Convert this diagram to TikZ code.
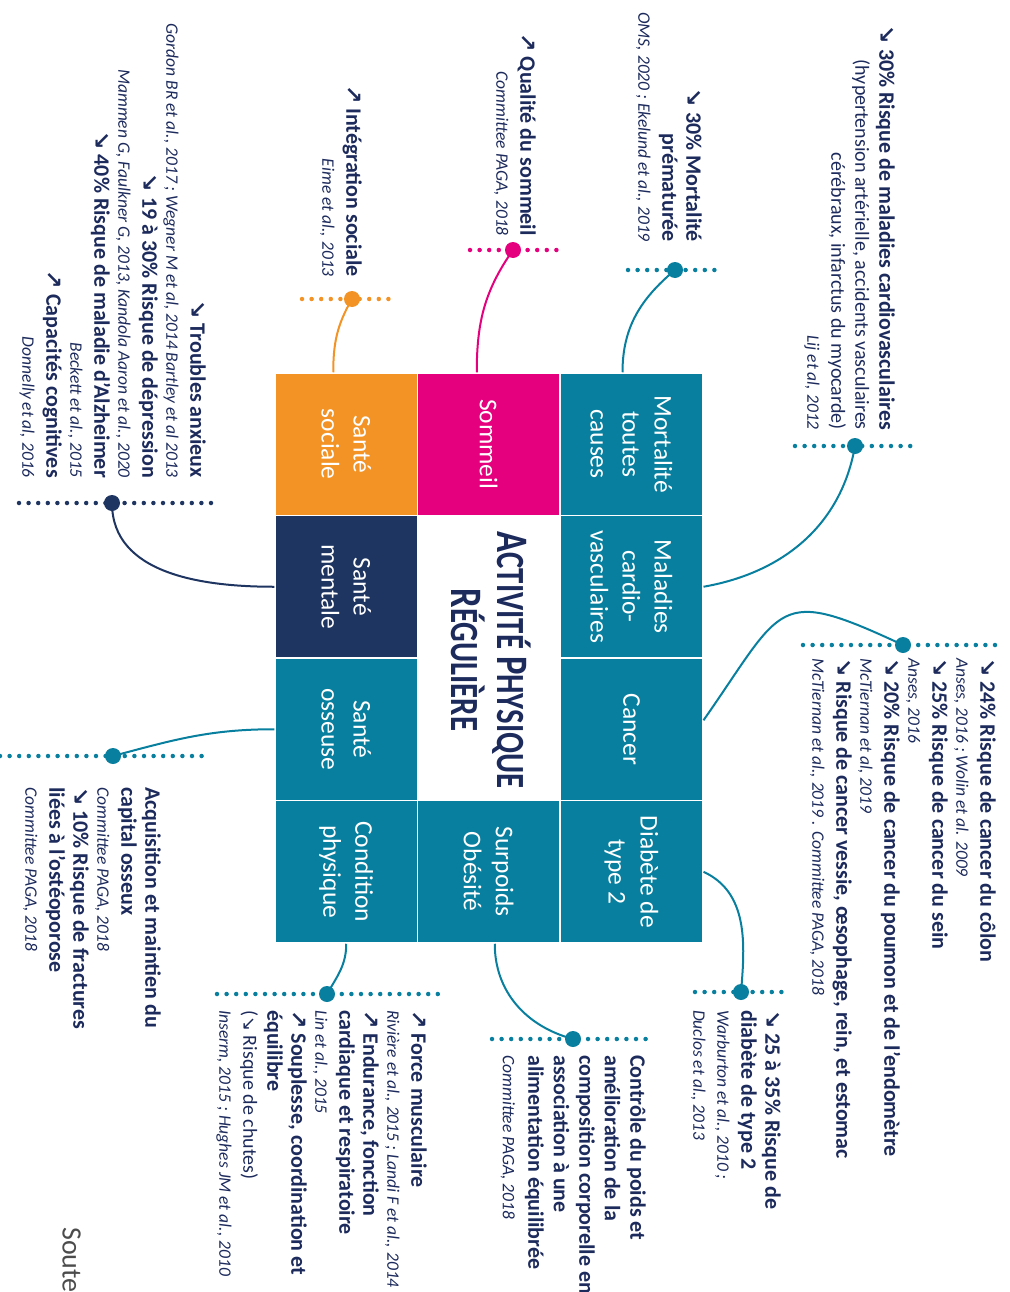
\documentclass[tikz,border=0pt]{standalone}
\usepackage{fontspec}
\setmainfont{Carlito}
\newfontfamily\arrowfont{DejaVu Sans}
\newfontfamily\titlefont[FakeStretch=0.77]{Carlito}
\usetikzlibrary{positioning}

\definecolor{apteal}{HTML}{087F9E}
\definecolor{apmag}{HTML}{E5007E}
\definecolor{aporange}{HTML}{F39325}
\definecolor{apnavy}{HTML}{1E3461}
\definecolor{ink}{HTML}{1C2A5C}

% trend arrows and text flavours
\newcommand{\arrdn}{{\arrowfont\bfseries\fontsize{22}{24}\selectfont ↘}}
\newcommand{\arrup}{{\arrowfont\bfseries\fontsize{22}{24}\selectfont ↗}}
\newcommand{\arrdnr}{{\arrowfont\fontsize{18}{24}\selectfont ↘}}
\newcommand{\cit}[1]{{\fontsize{17.5}{24}\selectfont\mdseries\itshape #1}}
\newcommand{\reg}[1]{{\fontsize{20}{24}\selectfont\mdseries #1}}
\newcommand{\tbig}[1]{{\fontsize{45}{46}\selectfont #1}}

\tikzset{
  cell/.style={draw=white, line width=1.5pt, minimum size=142.5pt, inner sep=0pt},
  celltxt/.style={rotate=-90, text=white, align=center, inner sep=0pt,
    font=\fontsize{25.5}{32}\selectfont},
  lab/.style={rotate=-90, inner sep=0pt, text=ink,
    font=\fontsize{22}{24}\selectfont\bfseries},
  labL/.style={lab, align=left, anchor=north west},
  labR/.style={lab, align=right, anchor=north east},
  dotn/.style={circle, fill=#1, minimum size=16pt, inner sep=0pt},
  guide/.style={draw=#1, line width=4.5pt, line cap=round, dash pattern=on 0pt off 9.6pt},
  link/.style={draw=#1, line width=2pt},
}

\begin{document}
\begin{tikzpicture}[x=1pt,y=1pt]
\useasboundingbox (0,0) rectangle (1009,-1292);

% ---- central grid ----
\node[cell, fill=apteal]   (mort) at (631.5,-444.25) {};
\node[cell, fill=apteal]   (card) at (631.5,-586.75) {};
\node[cell, fill=apteal]   (canc) at (631.5,-729.25) {};
\node[cell, fill=apteal]   (diab) at (631.5,-871.75) {};
\node[cell, fill=apmag]    (somm) at (488.75,-444.25) {};
\node[cell, fill=apteal]   (surp) at (488.75,-871.75) {};
\node[cell, fill=aporange] (soci) at (346.25,-444.25) {};
\node[cell, fill=apnavy]   (ment) at (346.25,-586.75) {};
\node[cell, fill=apteal]   (osse) at (346.25,-729.25) {};
\node[cell, fill=apteal]   (cond) at (346.25,-871.75) {};

\node[celltxt] (lmort) at (mort) {Mortalité\\toutes\\causes};
\node[celltxt] (lcard) at (card) {Maladies\\cardio-\\vasculaires};
\node[celltxt] (lcanc) at (canc) {Cancer};
\node[celltxt] (ldiab) at (diab) {Diabète de\\type 2};
\node[celltxt] (lsomm) at (somm) {Sommeil};
\node[celltxt] (lsurp) at (surp) {Surpoids\\Obésité};
\node[celltxt] (lsoci) at (soci) {Santé\\sociale};
\node[celltxt] (lment) at (ment) {Santé\\mentale};
\node[celltxt] (losse) at (osse) {Santé\\osseuse};
\node[celltxt] (lcond) at (cond) {Condition\\physique};

\node[rotate=-90, text=ink, align=center, inner sep=0pt,
      font=\titlefont\bfseries\fontsize{40}{46}\selectfont] (title) at (491.5,-660)
  {\tbig{A}CTIVITÉ \tbig{P}HYSIQUE\\\tbig{R}ÉGULIÈRE};

% ---- anchor points of the callouts ----
\coordinate (pment) at (112,-503);
\coordinate (psoc)  at (352,-299);
\coordinate (psom)  at (513,-250);
\coordinate (pmort) at (675,-270);
\coordinate (pcard) at (855,-446);
\coordinate (pcanc) at (903,-645);
\coordinate (pdiab) at (741,-992);
\coordinate (psurp) at (573,-1039);
\coordinate (pcond) at (327,-994);
\coordinate (posse) at (113,-756);

% ---- dotted guides ----
\draw[guide=apnavy]   (pment) ++(-93,0) -- ++(201,0);
\draw[guide=aporange] (psoc)  ++(-50,0) -- ++(95,0);
\draw[guide=apmag]    (psom)  ++(-43,0) -- ++(92,0);
\draw[guide=apteal]   (pmort) ++(-47,0) -- ++(92,0);
\draw[guide=apteal]   (pcard) ++(-60,0) -- ++(122,0);
\draw[guide=apteal]   (pcanc) ++(-100,0) -- ++(199,0);
\draw[guide=apteal]   (pdiab) ++(-46,0) -- ++(91,0);
\draw[guide=apteal]   (psurp) ++(-81,0) -- ++(160,0);
\draw[guide=apteal]   (pcond) ++(-110,0) -- ++(221,0);
\draw[guide=apteal]   (posse) ++(-113,0) -- ++(203,0);

% ---- connectors ----
\draw[link=apnavy]   (pment) to[out=-90, in=180] (ment.west);
\draw[link=aporange] ([xshift=-13pt]soci.north) to[out=90, in=-120] (psoc);
\draw[link=apmag]    ([xshift=-12pt]somm.north) to[out=90, in=-125] (psom);
\draw[link=apteal]   ([xshift=-9pt]mort.north) to[out=90, in=-140] (pmort);
\draw[link=apteal]   (card.east) to[out=10, in=-100] (pcard);
\draw[link=apteal]   ([yshift=9pt]canc.east) to[out=55, in=155, looseness=1.7] (pcanc);
\draw[link=apteal]   (diab.east) to[out=-25, in=85] (pdiab);
\draw[link=apteal]   ([xshift=6pt]surp.south) to[out=-90, in=165] (psurp);
\draw[link=apteal]   (cond.south) to[out=-90, in=60] (pcond);
\draw[link=apteal]   (osse.west) to[out=180, in=15] (posse);

% ---- dots ----
\node[dotn=apnavy]   (dment) at (pment) {};
\node[dotn=aporange] (dsoc)  at (psoc) {};
\node[dotn=apmag]    (dsom)  at (psom) {};
\node[dotn=apteal]   (dmort) at (pmort) {};
\node[dotn=apteal]   (dcard) at (pcard) {};
\node[dotn=apteal]   (dcanc) at (pcanc) {};
\node[dotn=apteal]   (ddiab) at (pdiab) {};
\node[dotn=apteal]   (dsurp) at (psurp) {};
\node[dotn=apteal]   (dcond) at (pcond) {};
\node[dotn=apteal]   (dosse) at (posse) {};

% ---- callout texts ----
\node[labR] (tment) at (206,-478) {%
  \arrdn\ Troubles anxieux\\
  \cit{Gordon BR et al., 2017 ; Wegner M et al, 2014 Bartley et al 2013}\\
  \arrdn\ 19 à 30\% Risque de dépression\\
  \cit{Mammen G, Faulkner G, 2013, Kandola Aaron et al., 2020}\\
  \arrdn\ 40\% Risque de maladie d’Alzheimer\\
  \cit{Beckett et al., 2015}\\
  \arrup\ Capacités cognitives\\
  \cit{Donnelly et al, 2016}};

\node[labR] (tsoc) at (362,-277) {%
  \arrup\ Intégration sociale\\
  \cit{Eime et al., 2013}};

\node[labR] (tsom) at (536,-236) {%
  \arrup\ Qualité du sommeil\\
  \cit{Committee PAGA, 2018}};

\node[labR] (tmort) at (702,-242) {%
  \arrdn\ 30\% Mortalité\\
  prématurée\\
  \cit{OMS, 2020 ; Ekelund et al., 2019}};

\node[labR] (tcard) at (895,-430) {%
  \arrdn\ 30\% Risque de maladies cardiovasculaires\\
  \reg{(hypertension artérielle, accidents vasculaires}\\
  \reg{cérébraux, infarctus du myocarde)}\\
  \cit{Lij et al, 2012}};

\node[labL] (tcanc) at (996,-658) {%
  \arrdn\ 24\% Risque de cancer du côlon\\
  \cit{Anses, 2016 ; Wolin et al. 2009}\\
  \arrdn\ 25\% Risque de cancer du sein\\
  \cit{Anses, 2016}\\
  \arrdn\ 20\% Risque de cancer du poumon et de l’endomètre\\
  \cit{McTiernan et al, 2019}\\
  \arrdn\ Risque de cancer vessie, œsophage, rein, et estomac\\
  \cit{McTiernan et al., 2019 . Committee PAGA, 2018}};

\node[labL] (tdiab) at (781,-1010) {%
  \arrdn\ 25 à 35\% Risque de\\
  diabète de type 2\\
  \cit{Warburton et al., 2010 ;}\\
  \cit{Duclos et al., 2013}};

\node[labL, font=\fontsize{22}{25.5}\selectfont\bfseries] (tsurp) at (646,-1055) {%
  Contrôle du poids et\\
  amélioration de la\\
  composition corporelle en\\
  association à une\\
  alimentation équilibrée\\
  \cit{Committee PAGA, 2018}};

\node[labL] (tcond) at (427,-1010) {%
  \arrup\ Force musculaire\\
  \cit{Rivière et al., 2015 ; Landi F et al., 2014}\\
  \arrup\ Endurance, fonction\\
  cardiaque et respiratoire\\
  \cit{Lin et al., 2015}\\
  \arrup\ Souplesse, coordination et\\
  équilibre\\
  \reg{(\arrdnr\ Risque de chutes)}\\
  \cit{Inserm, 2015 ; Hughes JM et al., 2010}};

\node[labL] (tosse) at (161,-787) {%
  Acquisition et maintien du\\
  capital osseux\\
  \cit{Committee PAGA, 2018}\\
  \arrdn\ 10\% Risque de fractures\\
  liées à l’ostéoporose\\
  \cit{Committee PAGA, 2018}};

\node[rotate=-90, anchor=north west, inner sep=0pt, text=black!70,
      font=\fontsize{28}{30}\selectfont] (soute) at (81,-1227) {Soute};
\end{tikzpicture}
\end{document}
